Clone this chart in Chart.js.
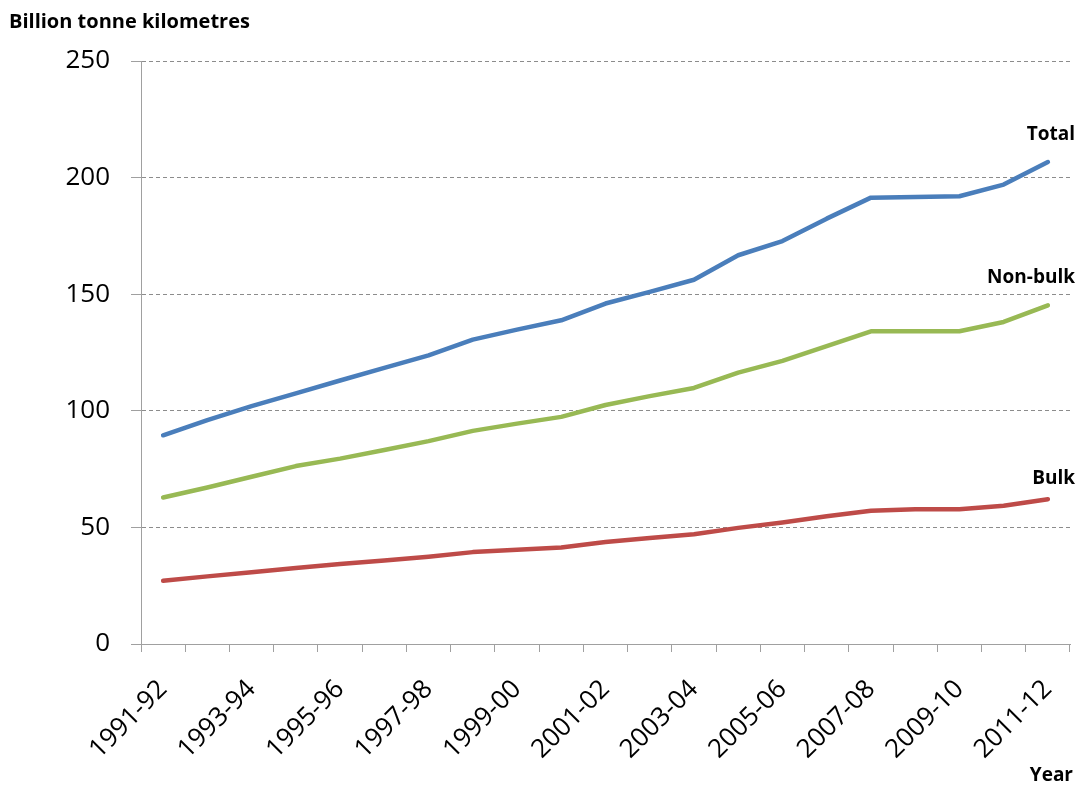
<!DOCTYPE html>
<html>
<head>
<meta charset="utf-8">
<script src="https://cdn.jsdelivr.net/npm/chart.js@4/dist/chart.umd.min.js"></script>
<style>
	html, body { margin: 0; padding: 0; background: #fff; }
	#chart { display: block; }
</style>
</head>
<body>
<canvas id="chart" width="1080" height="789"></canvas>
<script>
// Categories (financial years)
const years = [
	'1991-92', '1992-93', '1993-94', '1994-95', '1995-96', '1996-97', '1997-98',
	'1998-99', '1999-00', '2000-01', '2001-02', '2002-03', '2003-04', '2004-05',
	'2005-06', '2006-07', '2007-08', '2008-09', '2009-10', '2010-11', '2011-12'
];

// Billion tonne kilometres
const total = [89.5, 96, 102, 107.5, 113, 118.4, 123.8, 130.5, 134.8, 138.8, 146,
	151, 156.2, 166.7, 172.8, 182.4, 191.4, 191.7, 192, 197, 206.7];
const nonBulk = [62.8, 67.1, 71.7, 76.3, 79.5, 83.2, 87, 91.4, 94.5, 97.4, 102.5,
	106.3, 109.8, 116.4, 121.4, 127.7, 134.1, 134.1, 134.1, 138.1, 145.2];
const bulk = [27.1, 29, 30.8, 32.6, 34.3, 35.8, 37.4, 39.4, 40.4, 41.4, 43.7,
	45.5, 47.1, 49.8, 52.1, 54.8, 57.1, 57.8, 57.8, 59.3, 62.1];

const seriesNames = ['Total', 'Non-bulk', 'Bulk'];
const yTicks = [0, 50, 100, 150, 200, 250];

const FONT = "'Open Sans', sans-serif";

// end-of-line labels and axis titles
const labelPlugin = {
	id: 'labels',
	afterDraw(chart) {
		const ctx = chart.ctx;
		const lift = [27, 28, 21];
		ctx.save();
		ctx.fillStyle = '#000';
		ctx.font = 'bold 19px ' + FONT;
		ctx.textBaseline = 'middle';
		ctx.textAlign = 'right';
		chart.data.datasets.forEach((ds, i) => {
			const pts = chart.getDatasetMeta(i).data;
			const last = pts[pts.length - 1];
			ctx.fillText(ds.label, 1075, last.y - lift[i]);
		});
		ctx.fillText('Year', 1073, 776);
		ctx.textAlign = 'left';
		ctx.font = 'bold 20px ' + FONT;
		ctx.fillText('Billion tonne kilometres', 9, 22);
		ctx.restore();
	}
};

new Chart(document.getElementById('chart').getContext('2d'), {
	type: 'line',
	data: {
		labels: years,
		datasets: [
			{ label: seriesNames[0], data: total, borderColor: '#4A7EBB' },
			{ label: seriesNames[1], data: nonBulk, borderColor: '#98B954' },
			{ label: seriesNames[2], data: bulk, borderColor: '#BE4B48' }
		]
	},
	options: {
		responsive: false,
		animation: false,
		layout: { padding: { top: 61, right: 10, left: 0, bottom: 0 } },
		elements: {
			line: { borderWidth: 4.5, tension: 0, borderCapStyle: 'round', borderJoinStyle: 'round', fill: false },
			point: { radius: 0, hoverRadius: 0 }
		},
		plugins: {
			legend: { display: false },
			tooltip: { enabled: false }
		},
		scales: {
			x: {
				offset: true,
				afterFit(scale) {
					scale.height = 145;
					scale.paddingLeft = 0;
					scale.paddingRight = 0;
				},
				grid: { offset: true, drawOnChartArea: false, drawTicks: true, tickLength: 8, color: '#a0a0a0' },
				border: { color: '#a0a0a0' },
				ticks: {
					autoSkip: false,
					minRotation: 45,
					maxRotation: 45,
					padding: 22,
					color: '#000',
					font: { family: FONT, size: 26 },
					callback(val, idx) { return idx % 2 === 0 ? years[idx] : ''; }
				}
			},
			y: {
				min: 0,
				max: 250,
				afterFit(scale) { scale.width = 141; },
				afterBuildTicks(scale) { scale.ticks = yTicks.map(v => ({ value: v })); },
				grid: { color: '#8c8c8c', tickLength: 10, tickColor: '#a0a0a0' },
				border: { color: '#a0a0a0', dash: [4, 3] },
				ticks: {
					padding: 21,
					color: '#000',
					font: { family: FONT, size: 26 }
				}
			}
		}
	},
	plugins: [labelPlugin]
});
</script>
</body>
</html>
